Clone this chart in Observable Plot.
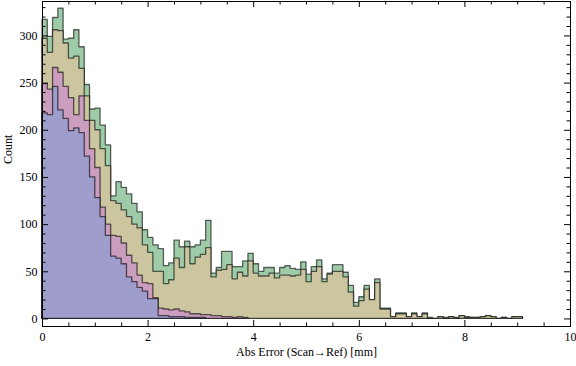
<!DOCTYPE html>
<html><head><meta charset="utf-8">
<script src="https://cdn.jsdelivr.net/npm/d3@7"></script>
<script src="https://cdn.jsdelivr.net/npm/@observablehq/plot@0.6"></script>
<style>body{margin:0;background:#fff}</style>
</head><body><div id="chart"></div>
<script>
// Histogram bin width (mm) and counts per bin, starting at 0
const binWidth = 0.1;
const green = [317,299,319,329,296,297,306,288,248,222,223,205,184,130,145,139,132,122,113,94,
  86,78,74,56,59,83,76,82,76,78,83,104,48,54,71,71,55,55,61,69,
  58,50,54,54,48,54,56,53,52,60,47,55,62,42,48,57,57,49,35,17,
  23,35,20,42,11,11,2,6,6,2,6,2,6,1,0,2,1,2,1,3,2,1,1,2,3,2,0,1,0,2,2];
const yellow = [297,282,306,305,292,276,278,265,236,210,200,180,162,125,122,115,108,100,96,78,
  70,50,50,37,41,64,54,76,58,65,68,75,44,51,52,57,42,49,45,61,
  48,45,45,48,43,46,46,45,46,52,39,50,55,39,47,50,50,44,28,13,
  19,31,20,38,10,10,2,5,5,2,5,2,5,0,0,2,0,2,0,3,1,1,1,2,3,2,0,1,0,2,2];
const pink = [249,243,266,261,246,234,216,236,210,180,160,118,100,88,87,80,67,59,46,38,
  37,22,11,10,9,10,8,7,5,5,4,4,3,3,2,2,1,2,1];
const blue = [218,216,246,221,212,199,202,197,172,150,128,108,88,66,64,58,44,39,33,29,
  21,21,3,3,2,2,2,1,1,1,1];

const seriesNames = ["green", "yellow", "pink", "blue"];
const seriesColors = ["#9ecba8", "#ccc6a0", "#cb9dbe", "#9f9dcc"];

const xMajor = [0,2,4,6,8,10];
const xMinor = [0.5,1,1.5,2.5,3,3.5,4.5,5,5.5,6.5,7,7.5,8.5,9,9.5];
const yMajor = [0,50,100,150,200,250,300];
const yMinor = [10,20,30,40,60,70,80,90,110,120,130,140,160,170,180,190,210,220,230,240,260,270,280,290,310,320,330];

const xLabel = "Abs Error (Scan\u2192Ref) [mm]";
const yLabel = "Count";

function steps(values) {
  const pts = values.map((v, i) => ({x: i * binWidth, y: v}));
  pts.push({x: values.length * binWidth, y: values[values.length - 1]});
  return pts;
}

const W = 576, H = 366;
const mL = 42, mR = 6, mT = 1, mB = 40;
const innerW = W - mL - mR, innerH = H - mT - mB;

const layers = [green, yellow, pink, blue].map((vals, k) =>
  Plot.areaY(steps(vals), {
    x: "x", y: "y", curve: "step-after",
    fill: seriesColors[k], stroke: "#000", strokeOpacity: 0.6, strokeWidth: 1.3
  })
);

const chart = Plot.plot({
  width: W, height: H,
  marginLeft: mL, marginRight: mR, marginTop: mT, marginBottom: mB,
  x: {domain: [0, 10]},
  y: {domain: [-8, 336.5]},
  style: {fontFamily: "'Liberation Serif', 'DejaVu Serif', serif", fontSize: "12px", background: "#fff", color: "#000"},
  marks: [
    ...layers,
    // inward ticks: bottom / top
    Plot.ruleX(xMajor, {x: d => d, insetTop: innerH - 6, stroke: "#000"}),
    Plot.ruleX(xMinor, {x: d => d, insetTop: innerH - 3.5, stroke: "#000"}),
    Plot.ruleX(xMajor, {x: d => d, insetBottom: innerH - 6, stroke: "#000"}),
    Plot.ruleX(xMinor, {x: d => d, insetBottom: innerH - 3.5, stroke: "#000"}),
    // inward ticks: left / right
    Plot.ruleY(yMajor, {y: d => d, insetRight: innerW - 6, stroke: "#000"}),
    Plot.ruleY(yMinor, {y: d => d, insetRight: innerW - 3.5, stroke: "#000"}),
    Plot.ruleY(yMajor, {y: d => d, insetLeft: innerW - 6, stroke: "#000"}),
    Plot.ruleY(yMinor, {y: d => d, insetLeft: innerW - 3.5, stroke: "#000"}),
    Plot.frame({stroke: "#000", strokeWidth: 1}),
    Plot.axisX({ticks: xMajor, tickSize: 0, tickPadding: 6, label: null, fontSize: 12}),
    Plot.axisY({ticks: yMajor, tickSize: 0, tickPadding: 5, label: null, fontSize: 12}),
    Plot.text([xLabel], {frameAnchor: "bottom", dy: 29, fontSize: 12, fill: "#000"}),
    Plot.text([yLabel], {frameAnchor: "left", dx: -34, rotate: -90, fontSize: 12, fill: "#000"})
  ]
});
document.getElementById("chart").appendChild(chart);
</script>
</body></html>
